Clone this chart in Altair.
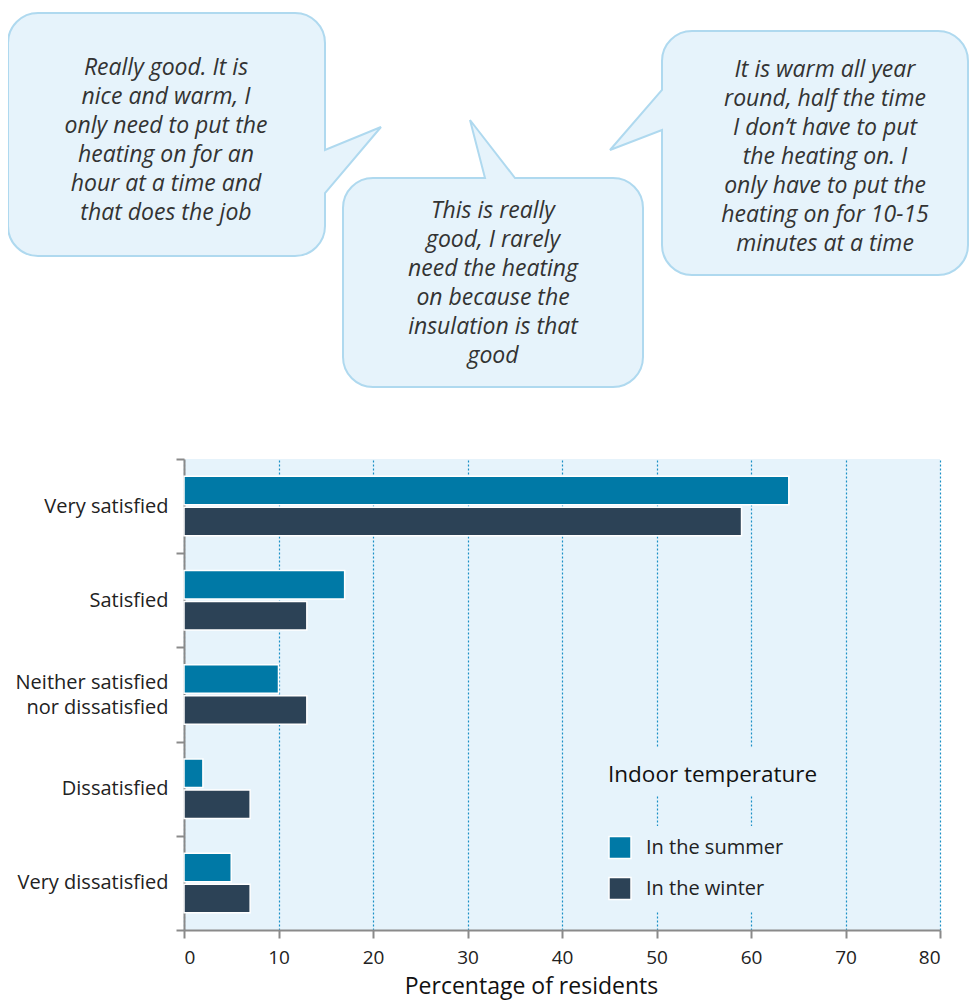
import altair as alt
import pandas as pd

# ---------------- data ----------------
categories = ["Very satisfied", "Satisfied", "Neither satisfied nor dissatisfied",
              "Dissatisfied", "Very dissatisfied"]
seasons = ["In the summer", "In the winter"]
summer_values = [64, 17, 10, 2, 5]
winter_values = [59, 13, 13, 7, 7]
season_colors = ["#0079a6", "#2c4256"]
x_ticks = [0, 10, 20, 30, 40, 50, 60, 70, 80]

quotes = [
    "Really good. It is\nnice and warm, I\nonly need to put the\nheating on for an\nhour at a time and\nthat does the job",
    "This is really\ngood, I rarely\nneed the heating\non because the\ninsulation is that\ngood",
    "It is warm all year\nround, half the time\nI don\u2019t have to put\nthe heating on. I\nonly have to put the\nheating on for 10-15\nminutes at a time",
]

# speech-bubble geometry (pixels relative to the plot area's top-left)
bubble_boxes = [(-176, -446, 141, -203), (159, -281, 459, -72), (478, -428, 784, -184)]
bubble_tail_sides = ["right", "top", "left"]
bubble_tail_bases = [(-309, -266), (301, 331), (-369, -329)]
bubble_tail_tips = [(197, -332), (286, -339), (426, -309)]
quote_first_line = [(-18, -391), (309, -248), (641, -389)]

# legend backing blocks (hide grid lines behind legend text)
legend_blocks_x = [(418, 642), (418, 602)]
legend_blocks_y = [(289, 337), (367, 452)]

FONT = "Open Sans"
PLOT_BG = "#e6f3fb"

rows = []
for c, s, w in zip(categories, summer_values, winter_values):
    rows.append({"cat": c, "season": seasons[0], "value": s})
    rows.append({"cat": c, "season": seasons[1], "value": w})
df = pd.DataFrame(rows)


def bubble_path(box, rad, side, base, tip):
    l, t, r, b = box
    k = 0.5523 * rad
    cx, cy = (l + r) / 2, (t + b) / 2

    def P(x, y):
        return f"{x - cx:.1f},{y - cy:.1f}"

    d = [f"M{P(l + rad, t)}"]
    if side == "top":
        d += [f"L{P(base[0], t)}", f"L{P(*tip)}", f"L{P(base[1], t)}"]
    d += [f"L{P(r - rad, t)}", f"C{P(r - rad + k, t)} {P(r, t + rad - k)} {P(r, t + rad)}"]
    if side == "right":
        d += [f"L{P(r, base[0])}", f"L{P(*tip)}", f"L{P(r, base[1])}"]
    d += [f"L{P(r, b - rad)}", f"C{P(r, b - rad + k)} {P(r - rad + k, b)} {P(r - rad, b)}"]
    d += [f"L{P(l + rad, b)}", f"C{P(l + rad - k, b)} {P(l, b - rad + k)} {P(l, b - rad)}"]
    if side == "left":
        d += [f"L{P(l, base[1])}", f"L{P(*tip)}", f"L{P(l, base[0])}"]
    d += [f"L{P(l, t + rad)}", f"C{P(l, t + rad - k)} {P(l + rad - k, t)} {P(l + rad, t)}", "Z"]
    return " ".join(d)


bubble_rows = []
for i in range(3):
    l, t, r, b = bubble_boxes[i]
    bubble_rows.append({
        "cx": (l + r) / 2, "cy": (t + b) / 2,
        "path": bubble_path(bubble_boxes[i], 30, bubble_tail_sides[i],
                            bubble_tail_bases[i], bubble_tail_tips[i]),
        "tx": quote_first_line[i][0], "ty": quote_first_line[i][1],
        "quote": quotes[i],
    })
bdf = pd.DataFrame(bubble_rows)

ldf = pd.DataFrame({
    "x1": [a for a, _ in legend_blocks_x], "x2": [b for _, b in legend_blocks_x],
    "y1": [a for a, _ in legend_blocks_y], "y2": [b for _, b in legend_blocks_y],
})

NEITHER = "Neither satisfied nor dissatisfied"

# ---------------- bars ----------------
bars = alt.Chart(df).mark_bar(stroke="white", strokeWidth=1.5).encode(
    y=alt.Y("cat:N", sort=categories,
            scale=alt.Scale(paddingInner=0, paddingOuter=0),
            axis=alt.Axis(title=None, tickBand="extent", domainColor="#8a8a8a", domainWidth=2,
                          tickColor="#8a8a8a", tickWidth=2, tickSize=8, labelPadding=8,
                          labelFont=FONT, labelFontSize=20, labelColor="#222222",
                          labelLimit=300, labelLineHeight=25,
                          labelOffset={"condition": {"test": f"datum.value == '{NEITHER}'", "value": -12.5},
                                       "value": 0},
                          labelExpr=f"datum.value == '{NEITHER}' ? ['Neither satisfied', 'nor dissatisfied'] : datum.value")),
    yOffset=alt.YOffset("season:N", sort=seasons,
                        scale=alt.Scale(paddingInner=0.08, paddingOuter=0.56)),
    x=alt.X("value:Q", scale=alt.Scale(domain=[0, 80], nice=False),
            axis=alt.Axis(values=x_ticks, title="Percentage of residents",
                          grid=True, gridColor="#1a90c6", gridDash=[2, 2], gridWidth=1.2,
                          domainColor="#8a8a8a", domainWidth=2,
                          tickColor="#8a8a8a", tickWidth=2, tickSize=8, labelPadding=10,
                          labelFont=FONT, labelFontSize=19, labelColor="#222222",
                          titleFont=FONT, titleFontSize=23, titleFontWeight="normal",
                          titleColor="#111111", titleX=347, titleY=63,
                          titleBaseline="alphabetic", titleAnchor="start", titleAlign="center")),
    color=alt.Color("season:N", sort=seasons,
                    scale=alt.Scale(domain=seasons, range=season_colors),
                    legend=alt.Legend(title="Indoor temperature", orient="none",
                                      legendX=424, legendY=305,
                                      titleFont=FONT, titleFontSize=22.5, titleFontWeight="normal",
                                      titleColor="#111111", titlePadding=49, titleLimit=400,
                                      labelFont=FONT, labelFontSize=20, labelColor="#222222",
                                      labelLimit=300,
                                      symbolType="square", symbolSize=484,
                                      symbolStrokeColor="white", symbolStrokeWidth=1.5,
                                      symbolOpacity=1, labelOffset=14, rowPadding=13,
                                      padding=0)),
)

legend_back = alt.Chart(ldf).mark_rect(fill=PLOT_BG, opacity=1).encode(
    x=alt.X("x1:Q", scale=None), x2="x2:Q",
    y=alt.Y("y1:Q", scale=None), y2="y2:Q",
)

bubbles = alt.Chart(bdf).mark_point(filled=True, size=4, fill=PLOT_BG, fillOpacity=1,
                                     stroke="#afd9ef", strokeWidth=2, opacity=1).encode(
    x=alt.X("cx:Q", scale=None),
    y=alt.Y("cy:Q", scale=None),
    shape=alt.Shape("path:N", scale=None),
)

quote_text = alt.Chart(bdf).mark_text(font=FONT, fontSize=23, fontStyle="italic",
                                      color="#333333", align="center", baseline="middle",
                                      lineBreak="\n", lineHeight=29).encode(
    x=alt.X("tx:Q", scale=None),
    y=alt.Y("ty:Q", scale=None),
    text="quote:N",
)

chart = alt.layer(legend_back, bars, bubbles, quote_text).resolve_scale(
    x="independent", y="independent"
).properties(
    width=756, height=471,
    background="white",
    autosize=alt.AutoSizeParams(type="none"),
    padding={"left": 176, "top": 451, "right": 30, "bottom": 74},
).configure_view(fill=PLOT_BG, stroke=None)

chart.save("out.html", embed_options={"renderer": "svg", "actions": False})
